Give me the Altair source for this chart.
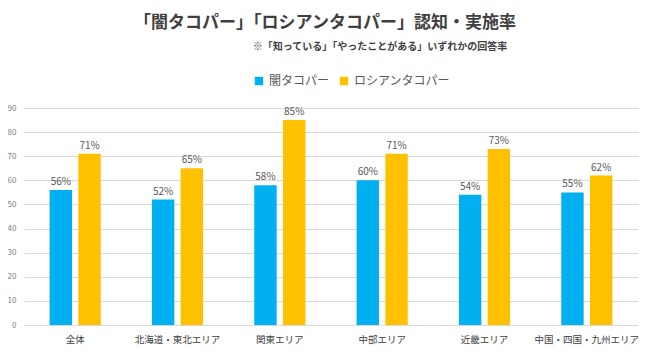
import altair as alt
import pandas as pd

categories = ["全体", "北海道・東北エリア", "関東エリア", "中部エリア", "近畿エリア", "中国・四国・九州エリア"]
series = ["闇タコパー", "ロシアンタコパー"]
yami = [56, 52, 58, 60, 54, 55]
russian = [71, 65, 85, 71, 73, 62]
title_text = "「闇タコパー」「ロシアンタコパー」認知・実施率"
subtitle_text = "※「知っている」「やったことがある」いずれかの回答率"
colors = ["#00B0F0", "#FFC000"]

rows = []
for c, a, b in zip(categories, yami, russian):
    rows.append({"cat": c, "series": series[0], "v": a, "label": f"{a}%"})
    rows.append({"cat": c, "series": series[1], "v": b, "label": f"{b}%"})
df = pd.DataFrame(rows)

FONT = "Noto Sans CJK JP"

x = alt.X("cat:N", sort=categories, title=None,
          scale=alt.Scale(paddingInner=0.5, paddingOuter=0.25),
          axis=alt.Axis(labelAngle=0, ticks=False, domain=False, labelPadding=9,
                        labelFontSize=9.5, labelColor="#404040", labelFont=FONT))
xo = alt.XOffset("series:N", sort=series, scale=alt.Scale(paddingInner=0.22))
y = alt.Y("v:Q", title=None, scale=alt.Scale(domain=[0, 90], nice=False),
          axis=alt.Axis(values=list(range(0, 91, 10)), ticks=False, domain=False,
                        labelPadding=8, labelFontSize=8, labelColor="#808080",
                        gridColor="#D9D9D9", gridWidth=1, labelFont=FONT))

base = alt.Chart(df)
bars = base.mark_bar().encode(
    x=x, xOffset=xo, y=y,
    color=alt.Color("series:N", sort=series,
                    scale=alt.Scale(domain=series, range=colors),
                    legend=alt.Legend(title=None, orient="none", direction="horizontal",
                                      legendX=229, legendY=-33, symbolType="square",
                                      symbolSize=70, labelFontSize=12, labelColor="#595959",
                                      labelFont=FONT, columnPadding=8, symbolStrokeWidth=0)),
)
labels = base.mark_text(dy=-8, fontSize=10, color="#595959", font=FONT).encode(
    x=x, xOffset=xo, y=y, text="label:N")

tdf = pd.DataFrame({"t": [title_text]})
sdf = pd.DataFrame({"t": [subtitle_text]})
title = alt.Chart(tdf).mark_text(fontSize=17, fontWeight="bold", color="#404040",
                                 font=FONT, align="center", baseline="middle").encode(
    text="t:N", x=alt.value(301), y=alt.value(-85))
subtitle = alt.Chart(sdf).mark_text(fontSize=10, fontWeight="bold", color="#404040",
                                    font=FONT, align="center", baseline="middle").encode(
    text="t:N", x=alt.value(356), y=alt.value(-61))

chart = alt.layer(bars, labels, title, subtitle).properties(
    width=614, height=217,
    autosize=alt.AutoSizeParams(type="none"),
    padding={"left": 16, "top": 100, "right": 4, "bottom": 30},
    background="white",
).configure_view(stroke=None)

chart.save("out.html", embed_options={"renderer": "svg", "actions": False})
